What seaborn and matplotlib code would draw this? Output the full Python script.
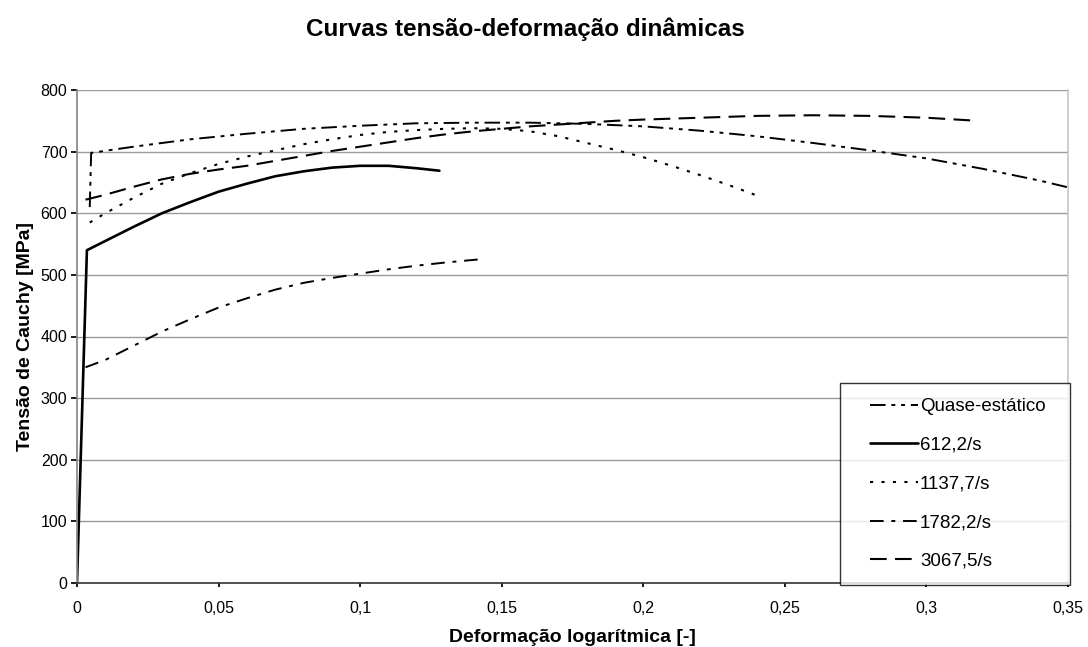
import matplotlib
matplotlib.use("Agg")
import matplotlib.pyplot as plt
from matplotlib.lines import Line2D
from matplotlib.legend_handler import HandlerLine2D
import seaborn as sns

# ---- data ----
labels = ["Quase-estático", "612,2/s", "1137,7/s", "1782,2/s", "3067,5/s"]

quasi_x = [0.0045, 0.005, 0.02, 0.04, 0.06, 0.08, 0.10, 0.12, 0.14, 0.16, 0.18, 0.20,
           0.22, 0.24, 0.26, 0.28, 0.30, 0.32, 0.34, 0.35]
quasi_y = [610, 698, 708, 720, 729, 737, 742, 746, 747, 747, 745, 741,
           734, 725, 714, 702, 689, 672, 653, 642]

r612_x = [0.0, 0.0035, 0.01, 0.02, 0.03, 0.04, 0.05, 0.06, 0.07, 0.08, 0.09, 0.10,
          0.11, 0.12, 0.128]
r612_y = [0, 540, 555, 578, 600, 618, 635, 648, 660, 668, 674, 677, 677, 673, 669]

r1137_x = [0.0045, 0.01, 0.02, 0.03, 0.04, 0.05, 0.06, 0.07, 0.08, 0.09, 0.10, 0.11,
           0.12, 0.13, 0.14, 0.15, 0.16, 0.17, 0.18, 0.19, 0.20, 0.21, 0.22, 0.23, 0.24]
r1137_y = [585, 600, 625, 648, 665, 680, 692, 702, 712, 720, 727, 732,
           735, 737, 738, 737, 733, 725, 714, 703, 691, 677, 662, 646, 629]

r1782_x = [0.003, 0.01, 0.02, 0.03, 0.04, 0.05, 0.06, 0.07, 0.08, 0.09, 0.10, 0.11,
           0.12, 0.13, 0.144]
r1782_y = [350, 362, 385, 408, 428, 447, 462, 476, 487, 495, 502, 509, 515, 520, 526]

r3067_x = [0.003, 0.01, 0.02, 0.03, 0.04, 0.05, 0.06, 0.07, 0.08, 0.09, 0.10, 0.11,
           0.12, 0.13, 0.14, 0.15, 0.16, 0.17, 0.18, 0.19, 0.20, 0.22, 0.24, 0.26,
           0.28, 0.30, 0.318]
r3067_y = [622, 630, 643, 655, 664, 671, 677, 685, 693, 701, 708, 715,
           722, 728, 733, 737, 741, 744, 747, 750, 752, 755, 758, 759,
           758, 755, 750]

x_ticks = [0, 0.05, 0.10, 0.15, 0.20, 0.25, 0.30, 0.35]
x_tick_labels = ["0", "0,05", "0,1", "0,15", "0,2", "0,25", "0,3", "0,35"]
y_ticks = [0, 100, 200, 300, 400, 500, 600, 700, 800]

# ---- plot ----
sns.set_theme(style="white")
plt.rcParams["font.family"] = ["Liberation Sans", "DejaVu Sans"]
plt.rcParams["text.color"] = "black"
plt.rcParams["axes.labelcolor"] = "black"
plt.rcParams["xtick.color"] = "black"
plt.rcParams["ytick.color"] = "black"

fig = plt.figure(figsize=(10.88, 6.47), dpi=100)
ax = fig.add_axes([77 / 1088, 1 - 583 / 647, (1068 - 77) / 1088, (583 - 90) / 647])

series = [
    (quasi_x, quasi_y, (0, (8, 3, 2, 3, 2, 3)), 1.4),
    (r612_x, r612_y, "-", 1.9),
    (r1137_x, r1137_y, (0, (1.5, 4)), 1.5),
    (r1782_x, r1782_y, (0, (7, 4, 2, 4)), 1.4),
    (r3067_x, r3067_y, (0, (8, 4)), 1.5),
]
for (xs, ys, ls, lw), lab in zip(series, labels):
    sns.lineplot(x=xs, y=ys, ax=ax, color="black", linestyle=ls, linewidth=lw,
                 label=lab, sort=False, estimator=None)

ax.set_xlim(0, 0.35)
ax.set_ylim(0, 800)
ax.set_xticks(x_ticks)
ax.set_xticklabels(x_tick_labels)
ax.set_yticks(y_ticks)
ax.tick_params(axis="x", labelsize=11.5, length=3, direction="out", bottom=True, pad=10)
ax.tick_params(axis="y", labelsize=11.5, length=4, direction="out", left=True, pad=3)
ax.yaxis.grid(True, color="#9a9a9a", linewidth=1.0)
ax.xaxis.grid(False)
ax.set_axisbelow(True)
ax.spines["top"].set_visible(False)
ax.spines["right"].set_color("#c8c8c8")
ax.spines["left"].set_color("#888888")
ax.spines["bottom"].set_color("#333333")
ax.spines["bottom"].set_linewidth(1.2)

ax.set_xlabel("Deformação logarítmica [-]", fontsize=14, fontweight="bold", labelpad=9)
ax.set_ylabel("Tensão de Cauchy [MPa]", fontsize=14, fontweight="bold", labelpad=5)
fig.text(525 / 1088, 1 - 29 / 647, "Curvas tensão-deformação dinâmicas", fontsize=17.5,
         fontweight="bold", ha="center", va="center")

leg = ax.legend(loc="lower left", bbox_to_anchor=(0.770, -0.004, 0.232, 0.42), mode="expand",
                borderaxespad=0, fontsize=13.5, frameon=True, fancybox=False,
                edgecolor="black", labelspacing=1.15, handlelength=3.36,
                handletextpad=0.1, borderpad=0.8,
                handler_map={Line2D: HandlerLine2D(xpad=0.8)})
leg.get_frame().set_linewidth(1.0)

fig.savefig("out.png", dpi=100, facecolor="white")
